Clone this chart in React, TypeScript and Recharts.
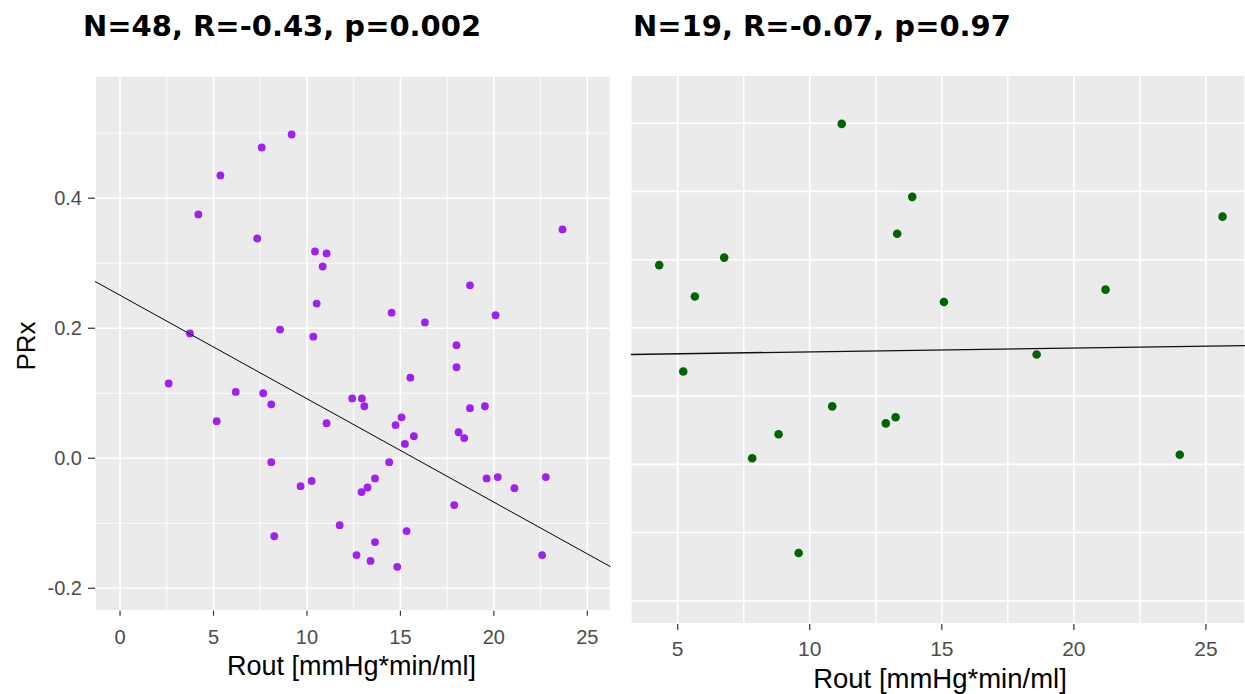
import {
  CartesianGrid,
  ReferenceLine,
  Scatter,
  ScatterChart,
  XAxis,
  YAxis,
} from 'recharts';

// left panel: PRx vs Rout, all patients
const leftRout = [
  9.18, 7.58, 5.37, 4.19, 7.34, 10.43, 10.84, 11.05, 10.52, 3.74, 8.56, 10.34,
  23.67, 18.72, 14.53, 16.31, 20.09, 18.0, 18.0, 15.53, 2.6, 6.19, 7.66, 8.09,
  5.17, 8.09, 9.66, 10.25, 8.25, 12.42, 12.94, 13.07, 11.05, 15.06, 14.74, 15.72,
  15.24, 14.4, 13.64, 12.92, 13.24, 11.75, 15.33, 13.64, 12.65, 13.4, 14.83, 18.72,
  19.52, 18.11, 18.41, 17.88, 19.61, 20.21, 21.1, 22.78, 22.58,
];
const leftPrx = [
  0.498, 0.478, 0.435, 0.375, 0.338, 0.318, 0.295, 0.315, 0.238, 0.192, 0.198, 0.187,
  0.352, 0.266, 0.224, 0.209, 0.22, 0.174, 0.14, 0.124, 0.115, 0.102, 0.1, 0.083,
  0.057, -0.006, -0.043, -0.035, -0.12, 0.092, 0.092, 0.08, 0.054, 0.063, 0.051, 0.034,
  0.022, -0.006, -0.031, -0.052, -0.045, -0.103, -0.112, -0.129, -0.149, -0.158, -0.167, 0.077,
  0.08, 0.04, 0.031, -0.072, -0.031, -0.029, -0.046, -0.029, -0.149,
];
const leftFitX = [-1.34, 26.25];
const leftFitY = [0.272, -0.167];

// right panel
const rightRout = [
  4.3, 5.65, 6.76, 5.21, 11.21, 13.88, 13.31, 15.08, 18.59, 21.2, 25.63, 10.85,
  8.82, 7.82, 9.58, 12.88, 13.25, 24.01,
];
const rightPrx = [
  0.292, 0.246, 0.303, 0.136, 0.499, 0.392, 0.338, 0.238, 0.161, 0.256, 0.363, 0.085,
  0.044, 0.009, -0.13, 0.06, 0.069, 0.014,
];
const rightFitX = [3.22, 26.48];
const rightFitY = [0.161, 0.174];

const xTicksLeft = [0, 5, 10, 15, 20, 25];
const xMinorLeft = [2.5, 7.5, 12.5, 17.5, 22.5];
const xTicksRight = [5, 10, 15, 20, 25];
const xMinorRight = [7.5, 12.5, 17.5, 22.5];
const yTicks = [-0.2, 0, 0.2, 0.4];
const yMinor = [-0.1, 0.1, 0.3, 0.5];

const leftTitle = 'N=48, R=-0.43, p=0.002';
const rightTitle = 'N=19, R=-0.07, p=0.97';
const xLabel = 'Rout [mmHg*min/ml]';
const yLabel = 'PRx';

const zip = (xs: number[], ys: number[]) => xs.map((x, i) => ({ x, y: ys[i] }));

const SANS = '"Liberation Sans", Arial, sans-serif';
const TICK_FILL = '#4d4d4d';

const dot = (color: string, r: number) => (props: any) =>
  <circle cx={props.cx} cy={props.cy} r={r} fill={color} />;

const noDot = () => <g />;

export default function App() {
  const leftData = zip(leftRout, leftPrx);
  const rightData = zip(rightRout, rightPrx);
  const leftFit = zip(leftFitX, leftFitY);
  const rightFit = zip(rightFitX, rightFitY);

  return (
    <div style={{ position: 'absolute', left: 0, top: 0, width: 1245, height: 694, background: '#fff', overflow: 'hidden' }}>
      <div style={{ position: 'absolute', left: 0, top: 0 }}>
        <ScatterChart width={620} height={694} margin={{ top: 76, right: 9.3, bottom: 43.3, left: 35 }}>
          <CartesianGrid fill="#ebebeb" stroke="#ffffff" strokeWidth={1.6} />
          {xMinorLeft.map((v) => (
            <ReferenceLine key={'xl' + v} x={v} stroke="#ffffff" strokeWidth={0.9} />
          ))}
          {yMinor.map((v) => (
            <ReferenceLine key={'yl' + v} y={v} stroke="#ffffff" strokeWidth={0.9} />
          ))}
          <XAxis
            type="number"
            dataKey="x"
            domain={[-1.34, 26.25]}
            ticks={xTicksLeft}
            allowDataOverflow
            height={40}
            axisLine={false}
            tickSize={5}
            tickMargin={14}
            tickLine={{ stroke: '#333', strokeWidth: 1.2 }}
            tick={{ fill: TICK_FILL, fontSize: 20, fontFamily: SANS }}
          />
          <YAxis
            type="number"
            dataKey="y"
            domain={[-0.2345, 0.588]}
            ticks={yTicks}
            allowDataOverflow
            width={60}
            axisLine={false}
            tickSize={7}
            tickMargin={6}
            tickLine={{ stroke: '#333', strokeWidth: 1.2 }}
            tick={{ fill: TICK_FILL, fontSize: 20, fontFamily: SANS }}
            tickFormatter={(v: number) => v.toFixed(1)}
          />
          <Scatter data={leftData} shape={dot('#a020f0', 3.9)} isAnimationActive={false} />
          <Scatter data={leftFit} shape={noDot} line={{ stroke: '#000', strokeWidth: 1 }} isAnimationActive={false} />
        </ScatterChart>
      </div>
      <div style={{ position: 'absolute', left: 620, top: 0 }}>
        <ScatterChart width={625} height={694} margin={{ top: 75, right: 0, bottom: 30, left: 10.7 }}>
          <CartesianGrid fill="#ebebeb" stroke="#ffffff" strokeWidth={1.8} />
          {xMinorRight.map((v) => (
            <ReferenceLine key={'xr' + v} x={v} stroke="#ffffff" strokeWidth={1.5} />
          ))}
          {yMinor.map((v) => (
            <ReferenceLine key={'yr' + v} y={v} stroke="#ffffff" strokeWidth={1.5} />
          ))}
          <XAxis
            type="number"
            dataKey="x"
            domain={[3.22, 26.48]}
            ticks={xTicksRight}
            allowDataOverflow
            height={40}
            axisLine={false}
            tickSize={6}
            tickMargin={11}
            tickLine={{ stroke: '#333', strokeWidth: 1.2 }}
            tick={{ fill: TICK_FILL, fontSize: 21, fontFamily: SANS }}
          />
          <YAxis type="number" dataKey="y" domain={[-0.234, 0.5706]} ticks={yTicks} allowDataOverflow hide />
          <Scatter data={rightData} shape={dot('#006400', 4.3)} isAnimationActive={false} />
          <Scatter data={rightFit} shape={noDot} line={{ stroke: '#111', strokeWidth: 1.4 }} isAnimationActive={false} />
        </ScatterChart>
      </div>
      <svg width={1245} height={694} style={{ position: 'absolute', left: 0, top: 0, pointerEvents: 'none' }}>
        <text x={83} y={36} fontFamily='"DejaVu Sans", Verdana, sans-serif' fontWeight="bold" fontSize={29} fill="#000">
          {leftTitle}
        </text>
        <text x={633} y={36} fontFamily='"DejaVu Sans", Verdana, sans-serif' fontWeight="bold" fontSize={29} fill="#000">
          {rightTitle}
        </text>
        <text x={351.5} y={675} textAnchor="middle" fontFamily={SANS} fontSize={27} fill="#000">
          {xLabel}
        </text>
        <text x={940} y={688} textAnchor="middle" fontFamily={SANS} fontSize={27.5} fill="#000">
          {xLabel}
        </text>
        <text transform="translate(35,346) rotate(-90)" textAnchor="middle" fontFamily={SANS} fontSize={26} fill="#000">
          {yLabel}
        </text>
      </svg>
    </div>
  );
}
